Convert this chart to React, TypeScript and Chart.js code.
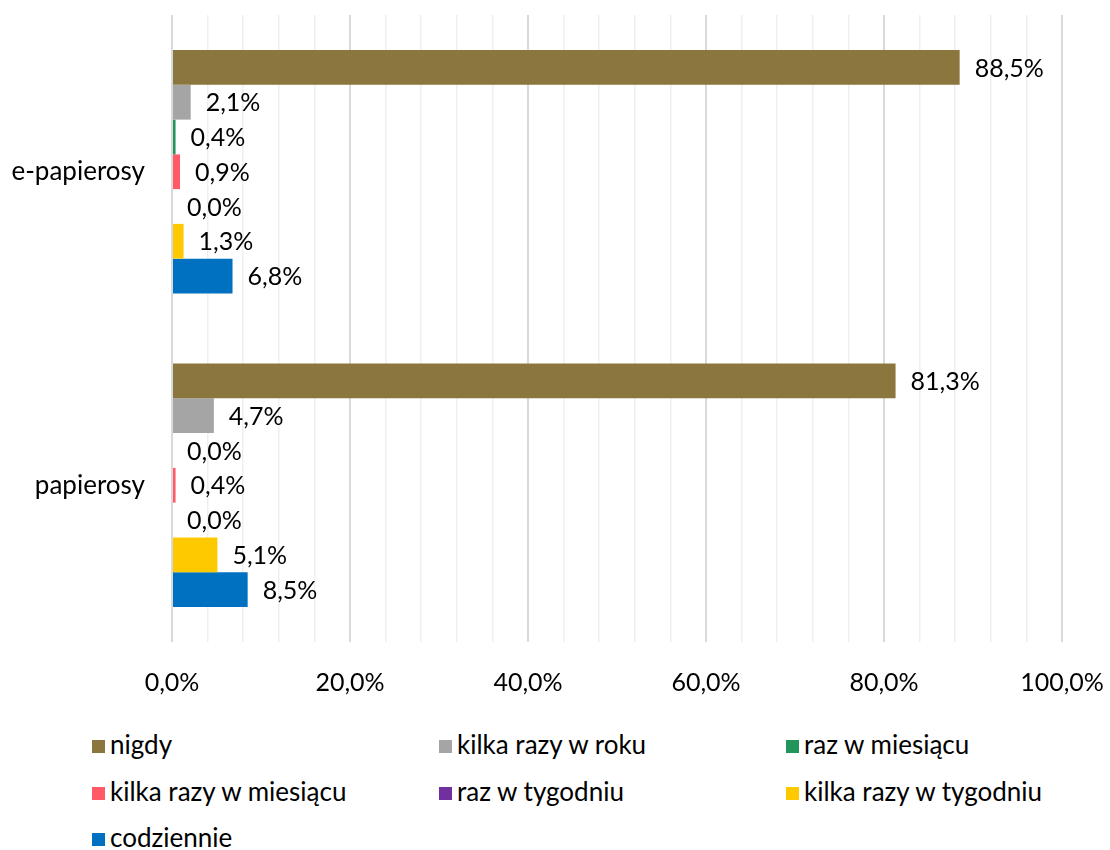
import React, { useEffect, useRef } from "react";
import { Chart, registerables } from "chart.js";

Chart.register(...registerables);

const categories = ["e-papierosy", "papierosy"];
const seriesNames = [
  "nigdy",
  "kilka razy w roku",
  "raz w miesiącu",
  "kilka razy w miesiącu",
  "raz w tygodniu",
  "kilka razy w tygodniu",
  "codziennie",
];
const seriesColors = ["#8B763E", "#A5A5A5", "#23955A", "#FF5A65", "#7030A0", "#FFC900", "#0070C0"];
const nigdy = [88.5, 81.3];
const kilkaRazyWRoku = [2.1, 4.7];
const razWMiesiacu = [0.4, 0.0];
const kilkaRazyWMiesiacu = [0.9, 0.4];
const razWTygodniu = [0.0, 0.0];
const kilkaRazyWTygodniu = [1.3, 5.1];
const codziennie = [6.8, 8.5];
const seriesValues = [nigdy, kilkaRazyWRoku, razWMiesiacu, kilkaRazyWMiesiacu, razWTygodniu, kilkaRazyWTygodniu, codziennie];

const FONT = "Lato, 'Open Sans', sans-serif";

const fmt = (v: number) => v.toFixed(1).replace(".", ",") + "%";

const valueLabels = {
  id: "valueLabels",
  afterDatasetsDraw(chart: any) {
    const ctx = chart.ctx;
    ctx.save();
    ctx.font = `25px ${FONT}`;
    ctx.fillStyle = "#000";
    ctx.textAlign = "left";
    ctx.textBaseline = "middle";
    chart.data.datasets.forEach((ds: any, i: number) => {
      const meta = chart.getDatasetMeta(i);
      meta.data.forEach((bar: any, j: number) => {
        const v = ds.data[j];
        ctx.fillText(fmt(v), bar.x + 15, bar.y + 1);
      });
    });
    ctx.restore();
  },
};

const zeroPad = (s: any) => {
  s.paddingLeft = 0;
  s.paddingRight = 0;
  s.paddingTop = 0;
  s.paddingBottom = 0;
};

export default function App() {
  const ref = useRef<HTMLCanvasElement>(null);
  useEffect(() => {
    const chart = new Chart(ref.current!, {
      type: "bar",
      data: {
        labels: categories,
        datasets: seriesNames.map((n, i) => ({
          label: n,
          data: seriesValues[i],
          backgroundColor: seriesColors[i],
          categoryPercentage: 0.776,
          barPercentage: 1,
        })),
      },
      options: {
        indexAxis: "y",
        animation: false,
        responsive: false,
        maintainAspectRatio: false,
        layout: { padding: { top: 15, right: 48, left: 0, bottom: 0 } },
        plugins: { legend: { display: false }, tooltip: { enabled: false } },
        scales: {
          x: {
            min: 0,
            max: 100,
            afterFit: (s: any) => {
              s.height = 78;
              zeroPad(s);
            },
            border: { display: false },
            grid: {
              drawTicks: false,
              color: (c: any) => (c.tick && Math.round(c.tick.value) % 20 === 0 ? "#D9D9D9" : "#EFEFEF"),
              lineWidth: (c: any) => (c.tick && Math.round(c.tick.value) % 20 === 0 ? 2 : 1.5),
            },
            ticks: {
              stepSize: 4,
              autoSkip: false,
              maxRotation: 0,
              padding: 26,
              color: "#000",
              font: { family: FONT, size: 25 },
              callback: (v: any) => (Math.round(v) % 20 === 0 ? fmt(Number(v)) : ""),
            },
          },
          y: {
            afterFit: (s: any) => {
              s.width = 172;
              zeroPad(s);
            },
            border: { display: false },
            grid: { display: false, drawTicks: false },
            ticks: {
              padding: 27,
              color: "#000",
              font: { family: FONT, size: 26 },
            },
          },
        },
      },
      plugins: [valueLabels],
    });
    return () => chart.destroy();
  }, []);

  const legendPos = [
    [0, 0], [1, 0], [2, 0],
    [0, 1], [1, 1], [2, 1],
    [0, 2],
  ];

  return (
    <div style={{ position: "fixed", left: 0, top: 0, width: 1110, height: 850, background: "#fff", fontFamily: FONT, overflow: "hidden" }}>
      <canvas ref={ref} width={1110} height={720} style={{ position: "absolute", left: 0, top: 0, width: 1110, height: 720 }} />
      {seriesNames.map((n, i) => (
        <div
          key={n}
          style={{
            position: "absolute",
            left: 92 + legendPos[i][0] * 347,
            top: 732 + legendPos[i][1] * 46.5,
            display: "flex",
            alignItems: "center",
            fontSize: 26,
            color: "#000",
            height: 28,
            lineHeight: "28px",
            whiteSpace: "nowrap",
          }}
        >
          <span style={{ display: "inline-block", width: 13, height: 13, background: seriesColors[i], marginRight: 5, marginTop: 1 }} />
          <span style={{ position: "relative", top: -2 }}>{n}</span>
        </div>
      ))}
    </div>
  );
}
